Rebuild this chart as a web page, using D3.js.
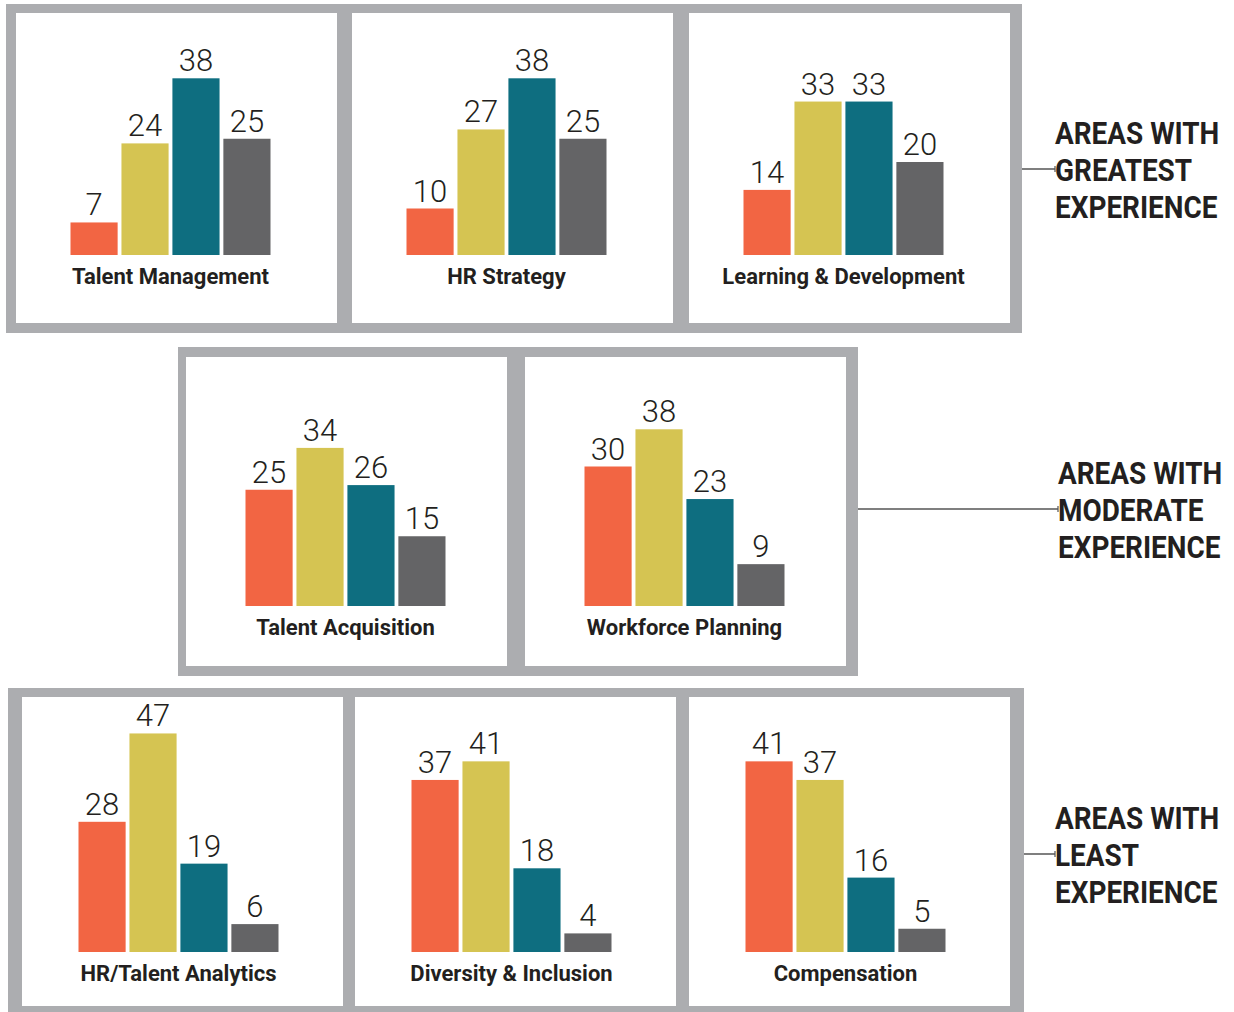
<!DOCTYPE html>
<html>
<head>
<meta charset="utf-8">
<script src="https://cdn.jsdelivr.net/npm/d3@7"></script>
<style>
  body { margin: 0; background: #fff; }
  svg { display: block; }
</style>
</head>
<body>
<script>
// canvas
var width = 1234, height = 1012;

// data
var categories = ["Talent Management", "HR Strategy", "Learning & Development",
                  "Talent Acquisition", "Workforce Planning",
                  "HR/Talent Analytics", "Diversity & Inclusion", "Compensation"];
var seriesA = [7, 10, 14, 25, 30, 28, 37, 41];   // orange
var seriesB = [24, 27, 33, 34, 38, 47, 41, 37];  // yellow
var seriesC = [38, 38, 33, 26, 23, 19, 18, 16];  // teal
var seriesD = [25, 25, 20, 15, 9, 6, 4, 5];      // grey
var groupOf = [0, 0, 0, 1, 1, 2, 2, 2];
var groupLabels = [
  ["AREAS WITH", "GREATEST", "EXPERIENCE"],
  ["AREAS WITH", "MODERATE", "EXPERIENCE"],
  ["AREAS WITH", "LEAST", "EXPERIENCE"]
];

var colors = ["#f26543", "#d5c452", "#0e6e80", "#646466"];
var frameGrey = "#acadb0";
var ink = "#231f20";

// layout of the three rows (frame, panels, baseline, side label)
var rows = [
  {frame: [6, 4, 1016, 329], panelX: [16, 352, 689], panelY: 13, panelH: 310, base: 255,
   shift: -6, lineFrom: 1022, textX: 1055, lineY: 169},
  {frame: [178, 347, 680, 329], panelX: [186, 525], panelY: 357, panelH: 309, base: 606,
   shift: -1, lineFrom: 858, textX: 1058, lineY: 509},
  {frame: [8, 688, 1016, 330], panelX: [22, 355, 689], panelY: 697, panelH: 309, base: 952,
   shift: -4, lineFrom: 1024, textX: 1055, lineY: 854}
];
var panelW = 321;

var svg = d3.select("body").append("svg")
  .attr("width", width)
  .attr("height", height);

var y = d3.scaleLinear().domain([0, 50]).range([0, 232.5]);
var x = d3.scaleBand().domain(d3.range(4)).range([0, 200]).paddingInner(0.075).paddingOuter(0);

// frames + panels
rows.forEach(function(r) {
  svg.append("rect")
    .attr("x", r.frame[0]).attr("y", r.frame[1])
    .attr("width", r.frame[2]).attr("height", r.frame[3])
    .attr("fill", frameGrey);
  r.panelX.forEach(function(px) {
    svg.append("rect")
      .attr("x", px).attr("y", r.panelY)
      .attr("width", panelW).attr("height", r.panelH)
      .attr("fill", "#fff");
  });
});

// one small chart per category
var slot = [0, 0, 0];
categories.forEach(function(cat, i) {
  var g = groupOf[i];
  var r = rows[g];
  var px = r.panelX[slot[g]++];
  var left = px + (panelW - 200) / 2 + r.shift;
  var vals = [seriesA[i], seriesB[i], seriesC[i], seriesD[i]];

  var chart = svg.append("g").attr("transform", "translate(" + left + "," + r.base + ")");

  chart.selectAll("rect.bar").data(vals).enter().append("rect")
    .attr("class", "bar")
    .attr("x", function(d, j) { return x(j); })
    .attr("y", function(d) { return -y(d); })
    .attr("width", x.bandwidth())
    .attr("height", function(d) { return y(d); })
    .attr("fill", function(d, j) { return colors[j]; });

  chart.selectAll("text.val").data(vals).enter().append("text")
    .attr("class", "val")
    .attr("x", function(d, j) { return x(j) + x.bandwidth() / 2; })
    .attr("y", function(d) { return -y(d) - 7; })
    .attr("text-anchor", "middle")
    .attr("font-family", "Roboto, sans-serif")
    .attr("font-weight", 300)
    .attr("font-size", 31)
    .attr("fill", ink)
    .text(function(d) { return d; });

  chart.append("text")
    .attr("x", 100)
    .attr("y", 29)
    .attr("text-anchor", "middle")
    .attr("font-family", "Roboto, sans-serif")
    .attr("font-weight", 700)
    .attr("font-size", 22)
    .attr("fill", ink)
    .text(cat);
});

// side labels with connector lines
rows.forEach(function(r, k) {
  svg.append("line")
    .attr("x1", r.lineFrom).attr("x2", r.textX)
    .attr("y1", r.lineY).attr("y2", r.lineY)
    .attr("stroke", "#555").attr("stroke-width", 1.5);
  svg.append("line")
    .attr("x1", r.textX).attr("x2", r.textX)
    .attr("y1", r.lineY - 3).attr("y2", r.lineY + 3)
    .attr("stroke", "#555").attr("stroke-width", 1.2);

  var t = svg.append("g")
    .attr("transform", "translate(" + r.textX + "," + (r.lineY - 25) + ") scale(0.9,1)");
  t.selectAll("text").data(groupLabels[k]).enter().append("text")
    .attr("x", 0)
    .attr("y", function(d, j) { return j * 37; })
    .attr("font-family", "Roboto, sans-serif")
    .attr("font-weight", 700)
    .attr("font-size", 31)
    .attr("fill", ink)
    .text(function(d) { return d; });
});
</script>
</body>
</html>
